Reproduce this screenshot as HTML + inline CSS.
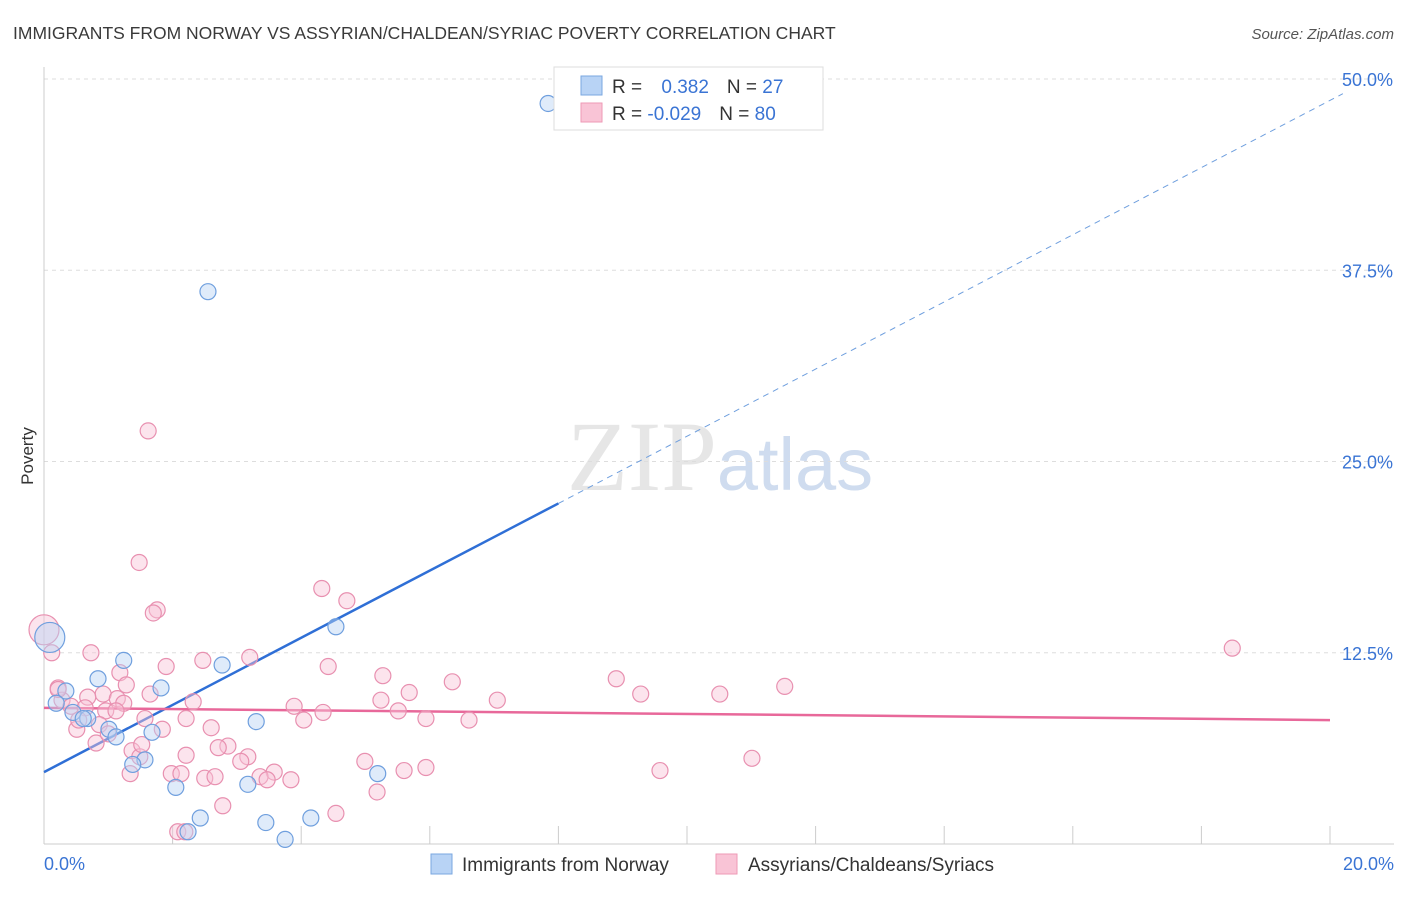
<!DOCTYPE html>
<html><head><meta charset="utf-8"><style>
body{margin:0;background:#fff;font-family:"Liberation Sans",sans-serif;}
svg text{font-family:"Liberation Sans",sans-serif;}
</style></head><body>
<svg id="chart" width="1406" height="892" viewBox="0 0 1406 892" xmlns="http://www.w3.org/2000/svg">
<text x="13" y="39" font-size="17.5" fill="#3a3a3a">IMMIGRANTS FROM NORWAY VS ASSYRIAN/CHALDEAN/SYRIAC POVERTY CORRELATION CHART</text>
<text x="1394" y="39" font-size="15" fill="#555" text-anchor="end" font-style="italic">Source: ZipAtlas.com</text>
<text x="720" y="490" font-size="96" text-anchor="middle" fill="#e6e6e6"><tspan font-family="Liberation Serif" font-size="100">ZIP</tspan><tspan fill="#cfdcef" font-size="74">atlas</tspan></text>
<text transform="translate(33,456) rotate(-90)" font-size="17" fill="#333" text-anchor="middle">Poverty</text>
<g id="grid"></g><g id="axes"></g><g id="lines"></g><g id="pts"></g>
<g>
<rect x="554" y="67" width="269" height="63" fill="#fff" stroke="#ddd"/>
<rect x="581" y="76" width="21" height="19" fill="#b8d3f5" stroke="#7aa7e0"/>
<rect x="581" y="103" width="21" height="19" fill="#f9c4d6" stroke="#ee9ab6"/>
<text x="612" y="93" font-size="19" fill="#333">R = <tspan fill="#3a74d4" dx="14">0.382</tspan><tspan dx="18">N = </tspan><tspan fill="#3a74d4">27</tspan></text>
<text x="612" y="120" font-size="19" fill="#333">R = <tspan fill="#3a74d4">-0.029</tspan><tspan dx="18">N = </tspan><tspan fill="#3a74d4">80</tspan></text>
</g>
<g>
<rect x="431" y="854" width="21" height="20" fill="#b8d3f5" stroke="#7aa7e0"/>
<text x="462" y="871" font-size="19" fill="#333">Immigrants from Norway</text>
<rect x="716" y="854" width="21" height="20" fill="#f9c4d6" stroke="#ee9ab6"/>
<text x="748" y="871" font-size="19" fill="#333">Assyrians/Chaldeans/Syriacs</text>
</g>
</svg>
<script>
const yTicks=[12.5,25,37.5,50];
const yTickLabels=["12.5%","25.0%","37.5%","50.0%"];
const xTickLabels=["0.0%","20.0%"];
const blueX=[7.84,2.55,4.54,0.09,1.24,2.77,0.84,1.82,0.34,0.19,0.45,0.68,1.01,1.12,1.68,3.30,1.57,1.38,2.05,5.19,3.17,2.43,3.45,2.24,4.15,3.75,0.61];
const blueY=[48.4,36.1,14.2,13.5,12.0,11.7,10.8,10.2,10.0,9.2,8.6,8.2,7.5,7.0,7.3,8.0,5.5,5.2,3.7,4.6,3.9,1.7,1.4,0.8,1.7,0.3,8.2];
const pinkX=[1.62,1.48,4.32,4.71,1.76,1.70,18.48,0.0,0.12,0.73,1.90,2.47,3.20,4.42,1.18,5.27,6.35,8.90,11.52,0.22,1.28,0.92,1.65,2.32,5.68,9.28,10.51,7.05,5.24,0.68,1.14,0.28,0.42,1.24,3.89,4.34,5.51,0.64,0.96,2.21,1.57,2.60,4.04,5.94,6.61,0.51,0.86,1.84,0.81,2.86,2.71,1.37,2.21,3.17,3.06,1.49,4.99,11.01,5.60,5.94,9.58,1.34,1.98,2.13,3.58,2.50,2.66,3.36,3.84,3.47,5.18,2.78,4.54,2.08,2.19,1.00,1.12,0.54,1.52,0.22];
const pinkY=[27.0,18.4,16.7,15.9,15.3,15.1,12.8,14.0,12.5,12.5,11.6,12.0,12.2,11.6,11.2,11.0,10.6,10.8,10.3,10.2,10.4,9.8,9.8,9.3,9.9,9.8,9.8,9.4,9.4,9.6,9.5,9.4,9.0,9.2,9.0,8.6,8.7,8.9,8.7,8.2,8.2,7.6,8.1,8.2,8.1,7.5,7.8,7.5,6.6,6.4,6.3,6.1,5.8,5.7,5.4,5.7,5.4,5.6,4.8,5.0,4.8,4.6,4.6,4.6,4.7,4.3,4.4,4.4,4.2,4.2,3.4,2.5,2.0,0.8,0.8,7.2,8.7,8.1,6.5,10.1];
const blueTrend=[4.7,48.6];
const pinkTrend=[8.9,8.1];
const X=v=>44+v*64.3, Y=v=>844-v*15.3;
const NS="http://www.w3.org/2000/svg";
function mk(tag,attrs,parent){const e=document.createElementNS(NS,tag);for(const k in attrs)e.setAttribute(k,attrs[k]);document.getElementById(parent).appendChild(e);return e;}
yTicks.forEach((t,i)=>{
 const g=mk('line',{x1:44,x2:1394,y1:Y(t),y2:Y(t),stroke:'#ddd','stroke-dasharray':'4,4'},'grid');
 
 
 const l=mk('text',{x:1393,y:Y(t)+7,'font-size':18,fill:'#3a74d4','text-anchor':'end'},'grid');
 l.textContent=yTickLabels[i];
 
 
});
const ax=mk('line',{x1:44,x2:44,y1:67,y2:844,stroke:'#ccc'},'axes');


const bx=mk('line',{x1:44,x2:1394,y1:844,y2:844,stroke:'#ccc'},'axes');


for(let i=0;i<=10;i++){
 const t=mk('line',{x1:X(i*2),x2:X(i*2),y1:826,y2:844,stroke:'#ccc'},'axes');
 
 
}
[[0,'start',44],[20,'end',1394]].forEach((d,i)=>{
 const l=mk('text',{x:d[2],y:870,'font-size':18,fill:'#3a74d4','text-anchor':d[1]},'axes');
 l.textContent=xTickLabels[i];
 
 
});
function pts(xs,ys,fill,stroke,name){
 xs.forEach((x,i)=>{
  const big=x<0.15&&ys[i]>13;
  const c=mk('circle',{cx:X(x),cy:Y(ys[i]),r:big?15:8,fill:fill,'fill-opacity':0.45,stroke:stroke,'stroke-width':1.2},'pts');
  
  
 });
}
pts(pinkX,pinkY,'#f9c4d6','#e890b0','pink-point');
pts(blueX,blueY,'#b8d3f5','#6f9fde','blue-point');
const bs=(blueTrend[1]-blueTrend[0])/20, xm=8;
const b1=mk('line',{x1:X(0),y1:Y(blueTrend[0]),x2:X(xm),y2:Y(blueTrend[0]+bs*xm),stroke:'#2f6fd6','stroke-width':2.5},'lines');


const b2=mk('line',{x1:X(xm),y1:Y(blueTrend[0]+bs*xm),x2:X(20.2),y2:Y(blueTrend[0]+bs*20.2),stroke:'#6f9fde','stroke-width':1,'stroke-dasharray':'6,5'},'lines');


const p1=mk('line',{x1:X(0),y1:Y(pinkTrend[0]),x2:X(20),y2:Y(pinkTrend[1]),stroke:'#e8689a','stroke-width':2.5},'lines');


</script>
</body></html>
